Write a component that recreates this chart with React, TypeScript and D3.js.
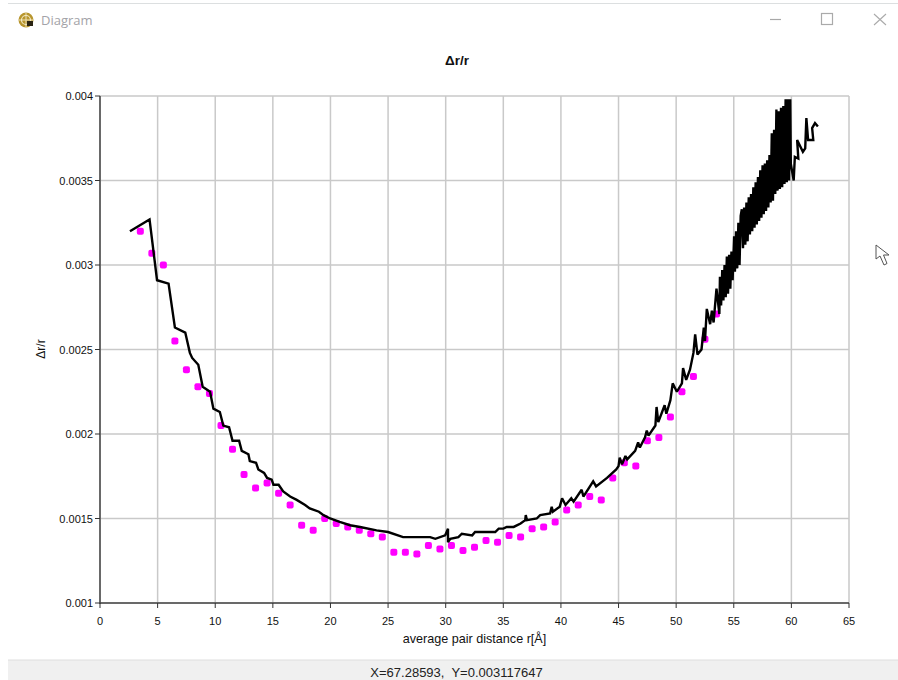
import React from "react";
import * as d3 from "d3";

const xTicks = [0, 5, 10, 15, 20, 25, 30, 35, 40, 45, 50, 55, 60, 65];
const yTicks = [0.001, 0.0015, 0.002, 0.0025, 0.003, 0.0035, 0.004];
const yTickLabels = ["0.001", "0.0015", "0.002", "0.0025", "0.003", "0.0035", "0.004"];

const dotX = [3.5, 4.5, 5.5, 6.5, 7.5, 8.5, 9.5, 10.5, 11.5, 12.5, 13.5, 14.5, 15.5, 16.5, 17.5, 18.5, 19.5, 20.5, 21.5, 22.5, 23.5, 24.5, 25.5, 26.5, 27.5, 28.5, 29.5, 30.5, 31.5, 32.5, 33.5, 34.5, 35.5, 36.5, 37.5, 38.5, 39.5, 40.5, 41.5, 42.5, 43.5, 44.5, 45.5, 46.5, 47.5, 48.5, 49.5, 50.5, 51.5, 52.5, 53.5];
const dotY = [0.0032, 0.00307, 0.003, 0.00255, 0.00238, 0.00228, 0.00224, 0.00205, 0.00191, 0.00176, 0.00168, 0.00171, 0.00165, 0.00158, 0.00146, 0.00143, 0.0015, 0.00147, 0.00145, 0.00143, 0.00141, 0.00139, 0.0013, 0.0013, 0.00129, 0.00134, 0.00132, 0.00134, 0.00131, 0.00133, 0.00137, 0.00136, 0.0014, 0.00139, 0.00144, 0.00145, 0.00148, 0.00155, 0.00158, 0.00163, 0.00161, 0.00174, 0.00183, 0.00181, 0.00196, 0.00198, 0.0021, 0.00225, 0.00234, 0.00256, 0.00271];

const lineX = [2.6, 4.3, 4.95, 5.95, 6.5, 7.4, 7.8, 8.0, 8.53, 8.91, 9.55, 9.84, 10.4, 10.7, 11.2, 11.5, 12.07, 12.3, 12.88, 13.0, 13.54, 13.74, 14.24, 14.5, 14.9, 15.05, 15.5, 15.9, 16.5, 17.07, 17.8, 18.2, 19, 19.4, 19.97, 20.8, 21.7, 22.57, 24, 25, 26.3, 27, 27.3, 28.65, 29.1, 29.95, 30.2, 30.2, 30.4, 31.1, 31.4, 32.3, 32.55, 33.4, 34.3, 34.6, 35, 35.3, 35.9, 36.5, 36.9, 36.95, 37.05, 37.9, 38.2, 39.06, 39.2, 39.3, 39.9, 40.1, 40.4, 40.9, 41.1, 41.8, 41.95, 42.8, 43.05,
  44, 44.8, 45, 45.1, 45.3, 45.6, 45.75, 46.44, 46.7, 46.85, 47.3, 47.45, 47.6, 48.2, 48.3, 48.45, 49, 49.15, 49.5, 49.7, 50.06, 50.5, 50.6, 50.87, 51.2, 51.5, 51.65, 51.85, 52.2, 52.4, 52.5, 52.66, 52.95, 53.1, 53.25, 53.4, 53.5, 53.75, 53.8, 53.9, 54, 54.1, 54.2, 54.3, 54.4, 54.5, 54.6, 54.7, 54.8, 54.9,
  55.03, 55.1, 55.2, 55.3, 55.4, 55.5, 55.6, 55.7, 55.8, 55.9, 56, 56.1, 56.2, 56.3, 56.4, 56.5, 56.6, 56.7, 56.8, 56.9, 57, 57.1, 57.2, 57.3, 57.4, 57.5, 57.6, 57.7, 57.8, 57.9, 58, 58.1, 58.2, 58.3, 58.4, 58.5, 58.6, 58.7, 58.8, 58.9, 59, 59.1, 59.2, 59.3, 59.4, 59.5, 59.6, 59.7, 59.8, 59.9, 59.95, 60.2, 60.3, 60.6, 60.5, 61, 61.2, 61.3, 61.45, 61.9, 61.8, 62.05, 62.3];
const lineY = [0.0032, 0.00327, 0.00291, 0.00289, 0.00263, 0.0026, 0.00248, 0.00245, 0.00241, 0.00228, 0.00225, 0.00215, 0.00213, 0.00205, 0.00204, 0.00196, 0.00196, 0.0019, 0.00188, 0.00184, 0.00183, 0.00179, 0.00177, 0.00174, 0.00173, 0.0017, 0.0017, 0.00166, 0.00163, 0.00161, 0.00158, 0.00156, 0.00154, 0.00152, 0.0015, 0.00148, 0.00146, 0.00145, 0.00143, 0.00142, 0.00139, 0.00139, 0.00139, 0.00139, 0.00138, 0.0014, 0.00144, 0.00136, 0.00138, 0.00139, 0.00141, 0.0014, 0.00142, 0.00142, 0.00142, 0.00144, 0.00144, 0.00145, 0.00145, 0.00147, 0.00149, 0.00152, 0.00149, 0.0015, 0.00152, 0.00153, 0.00157, 0.00154, 0.00157, 0.00162, 0.00158, 0.00162, 0.0016, 0.00167, 0.00163, 0.00172, 0.00169,
  0.00174, 0.00179, 0.00181, 0.00186, 0.00182, 0.00187, 0.00185, 0.0019, 0.00195, 0.00192, 0.00198, 0.00202, 0.00199, 0.00205, 0.00216, 0.00207, 0.00217, 0.00212, 0.0022, 0.0023, 0.00225, 0.0023, 0.00239, 0.00232, 0.00238, 0.00248, 0.00259, 0.00247, 0.0025, 0.00263, 0.00255, 0.00274, 0.00265, 0.00273, 0.00266, 0.00278, 0.00286, 0.00271, 0.00293, 0.00276, 0.00297, 0.00279, 0.003, 0.00281, 0.00305, 0.00283, 0.00306, 0.00286, 0.00308, 0.00291,
  0.00317, 0.00296, 0.0032, 0.00298, 0.00325, 0.003, 0.00329, 0.00333, 0.0031, 0.00334, 0.00312, 0.00337, 0.00314, 0.0034, 0.00318, 0.00342, 0.0032, 0.00346, 0.00322, 0.00349, 0.00324, 0.00352, 0.00326, 0.00356, 0.00328, 0.00359, 0.0033, 0.0036, 0.00332, 0.00362, 0.00334, 0.00365, 0.00337, 0.00378, 0.00338, 0.0038, 0.00342, 0.00392, 0.00344, 0.00391, 0.00345, 0.00393, 0.00346, 0.00394, 0.00348, 0.00398, 0.00349, 0.00398, 0.0035, 0.00398, 0.0036, 0.0035, 0.00364, 0.00363, 0.00374, 0.00367, 0.00369, 0.00387, 0.00374, 0.00374, 0.00381, 0.00384, 0.00382];

const titleText = "Δr/r";
const yLabelText = "Δr/r";
const xLabelText = "average pair distance r[Å]";
const statusText = "X=67.28593,  Y=0.003117647";
const windowTitle = "Diagram";

const x = d3.scaleLinear().domain([0, 65]).range([100, 849]);
const y = d3.scaleLinear().domain([0.001, 0.004]).range([603, 96]);
const lineGen = d3.line<number>().x((d) => x(d)).y((_, i) => y(lineY[i]));
const FONT = "'Liberation Sans', Arial, sans-serif";

export default function App() {
  return (
    <svg width={898} height={680} style={{ position: "absolute", left: 0, top: 0, display: "block", background: "#fff" }} fontFamily={FONT}>
      <line x1={8} x2={898} y1={3.5} y2={3.5} stroke="#dcdfe0" strokeWidth={1} />
      <g transform="translate(26,20)">
        <circle r={7.5} fill="#b8962e" />
        <circle r={4.5} fill="none" stroke="#f3e9c4" strokeWidth={1.2} />
        <path d="M-7,0H7M0,-7V7" stroke="#f3e9c4" strokeWidth={0.9} />
        <rect x={1} y={1} width={6} height={5} fill="#2a2412" />
      </g>
      <text x={41} y={25} fontFamily="'Open Sans', sans-serif" fontSize={13} fill="#a3a3a8">{windowTitle}</text>
      <line x1={770} x2={781} y1={19.5} y2={19.5} stroke="#a8a8a8" strokeWidth={1.2} />
      <rect x={821.5} y={13.5} width={11} height={11} fill="none" stroke="#aaa" strokeWidth={1.2} />
      <path d="M874,14L886,25M886,14L874,25" stroke="#aaa" strokeWidth={1.1} fill="none" />

      <text x={457} y={65} textAnchor="middle" fontSize={13.5} fontWeight={700} fill="#111">{titleText}</text>

      {xTicks.map((t) => (
        <line key={t} x1={x(t)} x2={x(t)} y1={96} y2={603} stroke="#c9c9c9" strokeWidth={1.5} />
      ))}
      {yTicks.map((t) => (
        <line key={t} x1={100} x2={849} y1={y(t)} y2={y(t)} stroke="#c9c9c9" strokeWidth={1.5} />
      ))}

      {dotX.map((d, i) => (
        <rect key={i} x={x(d) - 3.5} y={y(dotY[i]) - 3.5} width={7} height={7} rx={2} fill="#ff00ff" />
      ))}

      <path d={lineGen(lineX) || ""} fill="none" stroke="#000" strokeWidth={2.4} strokeLinejoin="miter" strokeMiterlimit={2} />

      <line x1={100} x2={100} y1={96} y2={604} stroke="#444" strokeWidth={1.5} />
      <line x1={100} x2={849} y1={603} y2={603} stroke="#444" strokeWidth={1.5} />
      {xTicks.map((t) => (
        <g key={t}>
          <line x1={x(t)} x2={x(t)} y1={603} y2={608} stroke="#333" strokeWidth={1} />
          <text x={x(t)} y={625} textAnchor="middle" fontSize={11} fill="#111">{t}</text>
        </g>
      ))}
      {yTicks.map((t, i) => (
        <g key={t}>
          <line x1={95} x2={100} y1={y(t)} y2={y(t)} stroke="#333" strokeWidth={1} />
          <text x={93} y={y(t) + 4} textAnchor="end" fontSize={11} fill="#111">{yTickLabels[i]}</text>
        </g>
      ))}

      <text transform="translate(45,349) rotate(-90)" textAnchor="middle" fontSize={12} fill="#111">{yLabelText}</text>
      <text x={474.5} y={643} textAnchor="middle" fontSize={12.6} fill="#111">{xLabelText}</text>

      <rect x={8} y={660} width={890} height={20} fill="#f0f0f0" />
      <line x1={8} x2={898} y1={660} y2={660} stroke="#dedede" />
      <text x={456.5} y={677} textAnchor="middle" fontSize={13} fill="#222" style={{ whiteSpace: "pre" }}>{statusText}</text>

      <path d="M876,245L876,259L880,256L884,265L887,263.5L883.5,255L889,255Z" fill="#fff" stroke="#555" strokeWidth={1} />
    </svg>
  );
}
